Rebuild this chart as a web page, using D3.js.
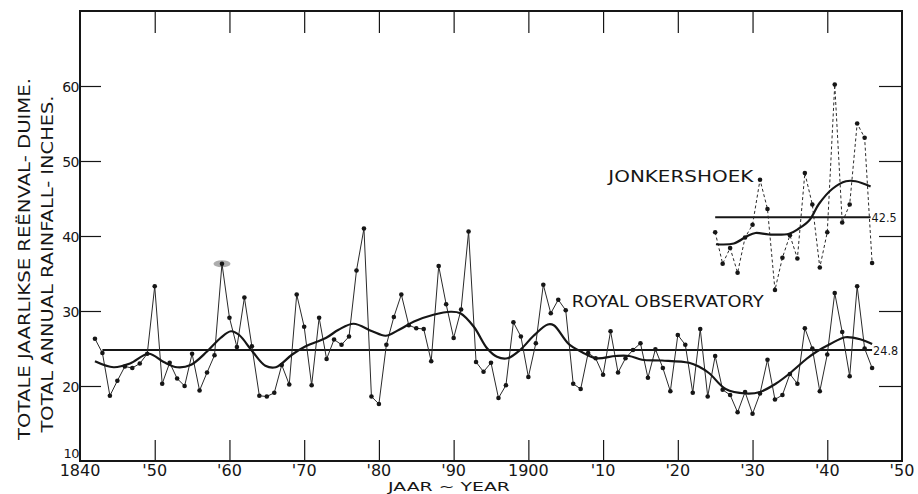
<!DOCTYPE html>
<html>
<head>
<meta charset="utf-8">
<script src="https://cdn.jsdelivr.net/npm/d3@7"></script>
<style>
  body { margin: 0; background: #fff; }
  svg text { font-family: "DejaVu Sans", sans-serif; fill: #161616; }
</style>
</head>
<body>
<div id="chart"></div>
<script>
// Royal Observatory, annual totals (inches)
const royalYears = d3.range(1842, 1947);
const royalRain = [
  26.3, 24.4, 18.7, 20.7, 22.6, 22.4, 23.0, 24.3, 33.3, 20.3,
  23.1, 21.0, 20.0, 24.3, 19.4, 21.8, 24.1, 36.3, 29.1, 25.2,
  31.8, 25.3, 18.7, 18.6, 19.1, 22.8, 20.2, 32.2, 27.9, 20.1,
  29.1, 23.6, 26.2, 25.5, 26.6, 35.4, 41.0, 18.6, 17.6, 25.5,
  29.2, 32.2, 28.1, 27.7, 27.6, 23.3, 36.0, 30.9, 26.4, 30.2,
  40.6, 23.2, 21.9, 23.1, 18.4, 20.1, 28.5, 26.6, 21.2, 25.7,
  33.5, 29.7, 31.5, 30.1, 20.3, 19.6, 24.4, 23.7, 21.5, 27.3,
  21.8, 23.7, 24.8, 25.7, 21.1, 24.9, 22.4, 19.3, 26.8, 25.5,
  19.1, 27.6, 18.6, 24.0, 19.5, 18.8, 16.5, 19.2, 16.3, 19.0,
  23.5, 18.2, 18.8, 21.6, 20.3, 27.7, 25.0, 19.3, 24.2, 32.4,
  27.2, 21.3, 33.3, 25.0, 22.4
];

// Jonkershoek, annual totals (inches)
const jonkYears = d3.range(1925, 1947);
const jonkRain = [
  40.5, 36.3, 38.4, 35.1, 39.8, 41.5, 47.5, 43.6, 32.8, 37.1,
  40.1, 37.0, 48.4, 44.2, 35.8, 40.5, 60.2, 41.8, 44.2, 55.0,
  53.1, 36.4
];

// smoothed curves: [year, inches]
const royalSmooth = [
  [1842, 23.3], [1844.5, 22.5], [1846.7, 23.0], [1849.2, 24.3], [1851.2, 23.2],
  [1853, 22.5], [1854.8, 22.8], [1857, 24.6], [1858.8, 26.4], [1860.2, 27.3],
  [1861.3, 26.8], [1863, 24.7], [1864.8, 22.7], [1866.2, 22.5], [1868.4, 24.2],
  [1870.2, 25.3], [1872.9, 26.4], [1874.6, 27.5], [1876.6, 28.3], [1879.1, 27.3],
  [1880.9, 26.7], [1882.7, 27.5], [1884.7, 28.6], [1887.3, 29.5], [1889.6, 29.9],
  [1890.9, 29.7], [1892.7, 27.9], [1894.5, 25.0], [1895.8, 23.9], [1897.2, 23.7],
  [1899, 24.9], [1900.7, 26.7], [1902.6, 28.2], [1903.4, 28.1], [1905.4, 25.6],
  [1907.2, 24.5], [1909, 23.7], [1911.7, 24.0], [1913.5, 24.0], [1915.2, 23.5],
  [1917.9, 23.4], [1921.5, 23.1], [1922.8, 22.6], [1924.2, 21.7], [1926.4, 19.6],
  [1929.1, 19.0], [1931, 19.2], [1933.1, 20.3], [1935, 21.7], [1937.2, 23.6],
  [1938.6, 24.6], [1940.4, 25.6], [1942.4, 26.5], [1944.5, 26.2], [1946, 25.6]
];
const jonkSmooth = [
  [1925.1, 38.9], [1927.5, 39.0], [1929.3, 40.0], [1930.4, 40.4], [1932.2, 40.2],
  [1934.9, 40.3], [1936.2, 41.0], [1937.6, 42.1], [1938.9, 44.3], [1940.7, 46.3],
  [1942.5, 47.3], [1943.8, 47.3], [1945.8, 46.6]
];

const royalMean = 24.8;
const royalMeanSpan = [1843, 1946];
const jonkMean = 42.5;
const jonkMeanSpan = [1925, 1945.8];

const decadeTicks = d3.range(1850, 1950, 10);
const xLabels = ['1840', "'50", "'60", "'70", "'80", "'90", '1900', "'10", "'20", "'30", "'40", "'50"];
const yTicks = [20, 30, 40, 50, 60];
const yLabels = [10, 20, 30, 40, 50, 60];

const width = 918;
const height = 494;
const ink = '#161616';

const svg = d3.select('#chart')
  .append('svg')
  .attr('width', width)
  .attr('height', height);

const x = d3.scaleLinear().domain([1840, 1950]).range([80, 902]);
const y = d3.scaleLinear().domain([10, 70]).range([461, 11]);

// frame
svg.append('rect')
  .attr('x', x(1840)).attr('y', y(70))
  .attr('width', x(1950) - x(1840)).attr('height', y(10) - y(70))
  .attr('fill', 'none').attr('stroke', ink).attr('stroke-width', 2);

// inner ticks on all four sides
const tickStyle = g => {
  g.select('.domain').remove();
  g.selectAll('.tick line').attr('stroke', ink).attr('stroke-width', 1.2);
};
svg.append('g').attr('transform', `translate(0,${y(10)})`)
  .call(d3.axisBottom(x).tickValues(decadeTicks).tickSize(-21).tickFormat(''))
  .call(tickStyle);
svg.append('g').attr('transform', `translate(0,${y(70)})`)
  .call(d3.axisTop(x).tickValues(decadeTicks).tickSize(-22).tickFormat(''))
  .call(tickStyle);
svg.append('g').attr('transform', `translate(${x(1840)},0)`)
  .call(d3.axisLeft(y).tickValues(yTicks).tickSize(-21).tickFormat(''))
  .call(tickStyle);
svg.append('g').attr('transform', `translate(${x(1950)},0)`)
  .call(d3.axisRight(y).tickValues(yTicks).tickSize(-23).tickFormat(''))
  .call(tickStyle);

// tick labels
svg.append('g')
  .selectAll('text')
  .data(xLabels)
  .join('text')
  .attr('x', (d, i) => x(1840 + i * 10))
  .attr('y', y(10) + 15)
  .attr('text-anchor', 'middle')
  .style('font-size', '16px')
  .text(d => d);

svg.append('g')
  .selectAll('text')
  .data(yLabels)
  .join('text')
  .attr('x', x(1840) - 1)
  .attr('y', d => d === 10 ? y(d) - 3 : y(d) + 5.5)
  .attr('text-anchor', 'end')
  .style('font-size', d => d === 10 ? '13px' : '14px')
  .style('letter-spacing', '-0.5px')
  .text(d => d);

// axis titles
svg.append('text')
  .attr('x', 449).attr('y', 490.5)
  .attr('text-anchor', 'middle')
  .attr('textLength', 122).attr('lengthAdjust', 'spacingAndGlyphs')
  .style('font-size', '11.5px')
  .text('JAAR ~ YEAR');

svg.append('text')
  .attr('transform', 'translate(30,259) rotate(-90)')
  .attr('text-anchor', 'middle')
  .attr('textLength', 362).attr('lengthAdjust', 'spacingAndGlyphs')
  .style('font-size', '15px')
  .text('TOTALE JAARLIKSE REËNVAL- DUIME.');
svg.append('text')
  .attr('transform', 'translate(53,264) rotate(-90)')
  .attr('text-anchor', 'middle')
  .attr('textLength', 337).attr('lengthAdjust', 'spacingAndGlyphs')
  .style('font-size', '15px')
  .text('TOTAL ANNUAL RAINFALL- INCHES.');

// mean lines
const meanLines = [
  { v: royalMean, span: royalMeanSpan, label: '24.8' },
  { v: jonkMean, span: jonkMeanSpan, label: '42.5' }
];
meanLines.forEach(m => {
  svg.append('line')
    .attr('x1', x(m.span[0])).attr('x2', x(m.span[1]))
    .attr('y1', y(m.v)).attr('y2', y(m.v))
    .attr('stroke', ink).attr('stroke-width', 1.8);
  svg.append('text')
    .attr('x', x(m.span[1]) + 1)
    .attr('y', y(m.v) + 4.5)
    .attr('textLength', 25).attr('lengthAdjust', 'spacingAndGlyphs')
    .style('font-size', '12.5px')
    .text(m.label);
});

// scan smudge over the 1859 point
svg.append('ellipse')
  .attr('cx', x(1859)).attr('cy', y(royalRain[royalYears.indexOf(1859)]))
  .attr('rx', 8.5).attr('ry', 3.6)
  .attr('fill', '#8a8a8a').attr('opacity', 0.7);

// annual series
const lineGen = d3.line()
  .x(d => x(d[0]))
  .y(d => y(d[1]));

const royalPts = royalYears.map((yr, i) => [yr, royalRain[i]]);
const jonkPts = jonkYears.map((yr, i) => [yr, jonkRain[i]]);

svg.append('path')
  .datum(royalPts)
  .attr('d', lineGen)
  .attr('fill', 'none').attr('stroke', '#2a2a2a').attr('stroke-width', 1);

svg.append('path')
  .datum(jonkPts)
  .attr('d', lineGen)
  .attr('fill', 'none').attr('stroke', '#2a2a2a').attr('stroke-width', 1)
  .attr('stroke-dasharray', '3,2.5');

// smoothed curves
const smoothGen = d3.line()
  .x(d => x(d[0]))
  .y(d => y(d[1]))
  .curve(d3.curveCatmullRom.alpha(0.5));

[royalSmooth, jonkSmooth].forEach(s => {
  svg.append('path')
    .datum(s)
    .attr('d', smoothGen)
    .attr('fill', 'none').attr('stroke', ink).attr('stroke-width', 2.2);
});

// dots
svg.append('g')
  .selectAll('circle')
  .data(royalPts.concat(jonkPts))
  .join('circle')
  .attr('cx', d => x(d[0]))
  .attr('cy', d => y(d[1]))
  .attr('r', 2.3)
  .attr('fill', ink);

// series labels
svg.append('text')
  .attr('x', x(1905.8)).attr('y', y(30.5))
  .attr('textLength', 192).attr('lengthAdjust', 'spacingAndGlyphs')
  .style('font-size', '15px')
  .text('ROYAL OBSERVATORY');

svg.append('text')
  .attr('x', x(1910.7)).attr('y', y(47.2))
  .attr('textLength', 145).attr('lengthAdjust', 'spacingAndGlyphs')
  .style('font-size', '15.5px')
  .text('JONKERSHOEK');
</script>
</body>
</html>
